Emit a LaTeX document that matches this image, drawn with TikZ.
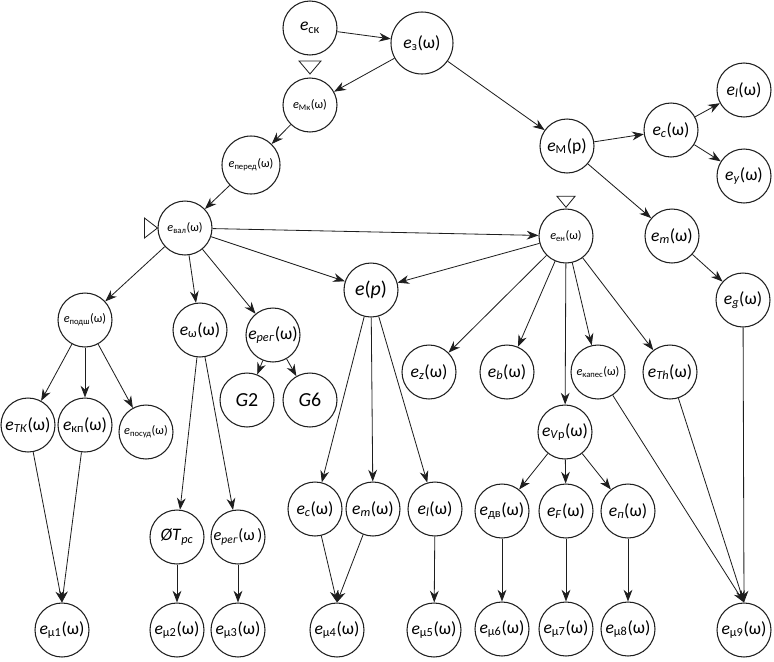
\documentclass[tikz,border=0pt]{standalone}
\usepackage{fontspec}
\setmainfont{Carlito}
\usepackage{tikz}
\usetikzlibrary{arrows.meta}
\definecolor{edgegray}{RGB}{30, 30, 30}
\newcommand{\eom}[1]{\textit{e}\textsubscript{#1}(ω)}

\begin{document}
\begin{tikzpicture}[
    x=0.03cm, y=-0.03cm,
    font=\fontsize{15}{17}\selectfont,
    st/.style={draw=edgegray, line width=0.9pt, circle, fill=white,
               minimum size=1.62cm, inner sep=0pt, align=center},
    sm/.style={font=\fontsize{10.5}{12}\selectfont},
    link/.style={->, draw=edgegray, line width=0.7pt},
    mark tri/.style={draw=edgegray, line width=0.7pt, fill=white},
    >={Stealth[length=10pt, width=7.5pt]},
  ]
    \useasboundingbox (0,0) rectangle (774,661);

    % Top chain
    \node[st] (sk) at (310,28) {\textit{e}\textsubscript{ск}};
    \node[st, minimum size=1.86cm] (zv) at (422,43) {\eom{з}};
    \node[st, sm] (mk) at (310,105) {\eom{Мк}};
    \node[st, sm, minimum size=1.74cm] (pered) at (251,165) {\eom{перед}};
    \node[st, sm] (val) at (185,228) {\eom{вал}};

    % Right branch
    \node[st] (mp) at (567,146) {\textit{e}\textsubscript{М}(р)};
    \node[st] (cr) at (671,130) {\eom{\textit{c}}};
    \node[st] (lr) at (744,90) {\eom{\textit{l}}};
    \node[st] (yr) at (744,176) {\eom{\textit{y}}};
    \node[st] (mr) at (672,236) {\eom{\textit{m}}};
    \node[st] (gr) at (743,300) {\eom{\textit{g}}};

    % Middle level
    \node[st, sm] (en) at (566,236) {\eom{ен}};
    \node[st, font=\fontsize{17}{19}\selectfont] (ep) at (371,290) {\textit{e}(\textit{p})};
    \node[st, sm] (podsh) at (85,320) {\eom{подш}};
    \node[st] (eomg) at (200,330) {\eom{ω}};
    \node[st] (reg) at (273,335) {\eom{\textit{рег}}};
    \node[st, font=\fontsize{17}{19}\selectfont] (g2) at (247,400) {\textit{G}2};
    \node[st, font=\fontsize{17}{19}\selectfont] (g6) at (310,400) {\textit{G}6};

    \node[st] (ez) at (429,372) {\eom{\textit{z}}};
    \node[st] (eb) at (507,372) {\eom{\textit{b}}};
    \node[st, sm] (kapes) at (598,372) {\eom{капес}};
    \node[st] (th) at (670,372) {\eom{\textit{Th}}};

    \node[st] (tk) at (28,425) {\eom{\textit{ТК}}};
    \node[st] (kp) at (85,425) {\eom{кп}};
    \node[st, sm] (posud) at (146,432) {\eom{посуд}};

    \node[st] (vp) at (565,432) {\eom{\textit{V}р}};
    \node[st] (dv) at (502,511) {\eom{дв}};
    \node[st] (ef) at (566,511) {\eom{\textit{F}}};
    \node[st] (epi) at (628,511) {\eom{\textit{п}}};

    \node[st] (tps) at (177,537) {\textit{ØT}\textsubscript{\textit{рс}}};
    \node[st, font=\fontsize{14}{16}\selectfont] (reg2) at (238,537) {\textit{e}\textsubscript{\textit{рег}}(ω\,)};
    \node[st] (ec) at (315,509) {\eom{\textit{c}}};
    \node[st] (em) at (373,509) {\eom{\textit{m}}};
    \node[st] (el) at (435,509) {\eom{\textit{l}}};

    % Bottom row
    \node[st] (mu1) at (62,630) {\eom{μ1}};
    \node[st] (mu2) at (177,630) {\eom{μ2}};
    \node[st] (mu3) at (238,630) {\eom{μ3}};
    \node[st] (mu4) at (337,630) {\eom{μ4}};
    \node[st] (mu5) at (434,630) {\eom{μ5}};
    \node[st] (mu6) at (502,629) {\eom{μ6}};
    \node[st] (mu7) at (566,629) {\eom{μ7}};
    \node[st] (mu8) at (628,629) {\eom{μ8}};
    \node[st] (mu9) at (744,630) {\eom{μ9}};

    % Marks
    \draw[mark tri] ([yshift=3]mk.north) -- ++(-11,-13) -- ++(22,0) -- cycle;
    \draw[mark tri] ([yshift=1]en.north) -- ++(-9,-11) -- ++(18,0) -- cycle;
    \draw[mark tri] (val.west) -- ++(-13,-10) -- ++(0,20) -- cycle;

    % Edges
    \draw[link] (sk) -- (zv);
    \draw[link] (zv) -- (mk);
    \draw[link] (zv) -- (mp);
    \draw[link] (mk) -- (pered);
    \draw[link] (pered) -- (val);
    \draw[link] (mp) -- (cr);
    \draw[link] (cr) -- (lr);
    \draw[link] (cr) -- (yr);
    \draw[link] (mp) -- (mr);
    \draw[link] (mr) -- (gr);
    \draw[link] (gr) -- (mu9.north);

    \draw[link] (val) -- (en);
    \draw[link] (val) -- (podsh);
    \draw[link] (val) -- (eomg);
    \draw[link] (val) -- (reg);
    \draw[link] (val) -- (ep);
    \draw[link] (en) -- (ep);

    \draw[link] (en) -- (ez);
    \draw[link] (en) -- (eb);
    \draw[link] (en) -- (kapes);
    \draw[link] (en) -- (th);
    \draw[link] (en) -- (vp);
    \draw[link] (kapes) -- (mu9.north);
    \draw[link] (th) -- (mu9.north);

    \draw[link] (vp) -- (dv);
    \draw[link] (vp) -- (ef);
    \draw[link] (vp) -- (epi);
    \draw[link] (dv) -- (mu6);
    \draw[link] (ef) -- (mu7);
    \draw[link] (epi) -- (mu8);

    \draw[link] (ep) -- (ec);
    \draw[link] (ep) -- (em);
    \draw[link] (ep) -- (el);
    \draw[link] (ec) -- (mu4.north);
    \draw[link] (em) -- (mu4.north);
    \draw[link] (el) -- (mu5);

    \draw[link] (podsh) -- (tk);
    \draw[link] (podsh) -- (kp);
    \draw[link] (podsh) -- (posud);
    \draw[link] (tk) -- (mu1.north);
    \draw[link] (kp) -- (mu1.north);

    \draw[link] (eomg) -- (tps);
    \draw[link] (eomg) -- (reg2);
    \draw[link] (tps) -- (mu2);
    \draw[link] (reg2) -- (mu3);

    \draw[link] (reg) -- (g2);
    \draw[link] (reg) -- (g6);
  \end{tikzpicture}
\end{document}
